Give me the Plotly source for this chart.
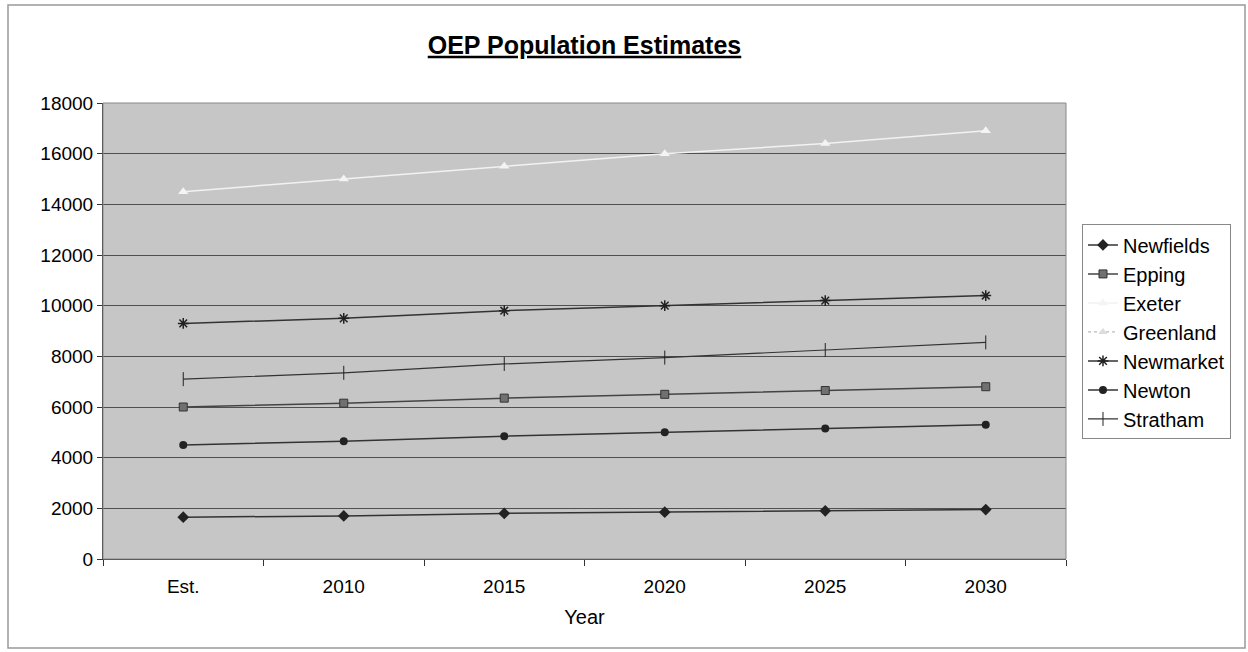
import plotly.graph_objects as go

years = ["Est.", "2010", "2015", "2020", "2025", "2030"]
newfields = [1650, 1700, 1800, 1850, 1900, 1950]
epping = [6000, 6150, 6350, 6500, 6650, 6800]
exeter = [14500, 15000, 15500, 16000, 16400, 16900]
greenland = [None, None, None, None, None, None]
newmarket = [9300, 9500, 9800, 10000, 10200, 10400]
newton = [4500, 4650, 4850, 5000, 5150, 5300]
stratham = [7100, 7350, 7700, 7950, 8250, 8550]
y_ticks = [0, 2000, 4000, 6000, 8000, 10000, 12000, 14000, 16000, 18000]

series = [
    ("Newfields", newfields, dict(symbol="diamond", size=9, color="#222222"), dict(color="#333333", width=1.5)),
    ("Epping", epping, dict(symbol="square", size=8, color="#707070", line=dict(color="#333333", width=1)), dict(color="#444444", width=1.5)),
    ("Exeter", exeter, dict(symbol="triangle-up", size=9, color="#f4f4f4"), dict(color="#f2f2f2", width=1.5)),
    ("Greenland", greenland, dict(symbol="triangle-up", size=8, color="#dddddd"), dict(color="#aaaaaa", width=1, dash="dot")),
    ("Newmarket", newmarket, dict(symbol="asterisk-open", size=9, color="#222222", line=dict(color="#222222", width=1.5)), dict(color="#333333", width=1.5)),
    ("Newton", newton, dict(symbol="circle", size=8, color="#222222"), dict(color="#333333", width=1.5)),
    ("Stratham", stratham, dict(symbol="line-ns-open", size=10, color="#222222", line=dict(color="#222222", width=1)), dict(color="#333333", width=1.2)),
]

fig = go.Figure()
for i, (name, vals, marker, line) in enumerate(series):
    fig.add_trace(go.Scatter(
        x=years, y=vals, name=name, mode="lines+markers",
        marker=marker, line=line, legendgroup=f"g{i}",
    ))

font = "Liberation Sans, Arial, sans-serif"
fig.update_layout(
    width=1248, height=652,
    margin=dict(l=103, r=182, t=103, b=93),
    paper_bgcolor="white",
    plot_bgcolor="#c6c6c6",
    font=dict(family=font, size=19, color="black"),
    title=dict(text="<b><u>OEP Population Estimates</u></b>", x=0.5, xref="paper",
               y=1 - 45 / 652, yanchor="middle", font=dict(size=25, family=font)),
    showlegend=True,
    legend=dict(x=1.0166, y=0.498, xanchor="left", yanchor="middle",
                bgcolor="white", bordercolor="#888888", borderwidth=1,
                font=dict(size=20, family=font), tracegroupgap=5,
                traceorder="normal", itemwidth=30),
    xaxis=dict(type="category", range=[-0.5, 5.5], tickson="boundaries",
               ticks="outside", ticklen=6, tickcolor="#333333",
               showline=True, linecolor="#333333", linewidth=1,
               showgrid=False, zeroline=False,
               tickfont=dict(size=19), ticklabelstandoff=10,
               title=dict(text="Year", font=dict(size=20), standoff=14),
               mirror=False),
    yaxis=dict(range=[0, 18000], tickvals=y_ticks, tickformat="d", ticks="outside", ticklen=5,
               tickcolor="#333333", showline=True, linecolor="#333333", linewidth=1,
               tickfont=dict(size=19),
               showgrid=True, gridcolor="#505050", gridwidth=1, zeroline=False),
    shapes=[
        dict(type="rect", xref="paper", yref="paper",
             x0=(8 - 103) / 963, x1=(1245 - 103) / 963,
             y0=(559 - 648) / 456, y1=(559 - 5) / 456,
             line=dict(color="#999999", width=1.5), layer="below"),
        dict(type="rect", xref="paper", yref="paper", x0=0, x1=1, y0=0, y1=1,
             line=dict(color="#888888", width=1)),
    ],
)

fig.write_html("out.html")
